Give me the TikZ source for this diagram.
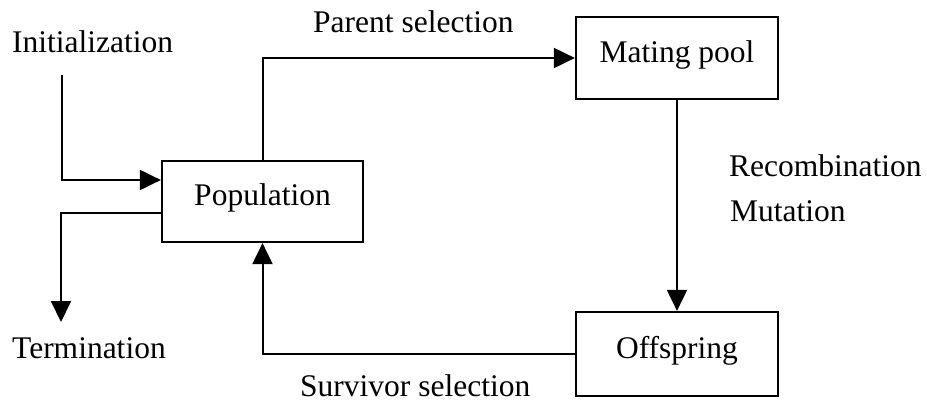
\documentclass[tikz,border=0pt]{standalone}
\usepackage{fontspec}
\setmainfont{Liberation Serif}
\usetikzlibrary{arrows.meta}
\begin{document}
\begin{tikzpicture}[x=1pt,y=-1pt,
  every node/.style={font=\fontsize{31.5pt}{38pt}\selectfont},
  stage/.style={draw, line width=2.2pt, rectangle, inner sep=0pt,
    text height=21pt, text depth=12pt},
  flow/.style={line width=2pt, -{Triangle[length=21pt,width=20pt]}},
  caption/.style={anchor=base west, inner sep=0pt}]
\useasboundingbox (0,0) rectangle (927,401);

% the three stages of the cycle
\node[stage, minimum width=201pt, minimum height=81pt] (pop) at (262.5,201.5) {Population};
\node[stage, minimum width=202pt, minimum height=82pt] (mate) at (677,58) {Mating pool};
\node[stage, minimum width=202pt, minimum height=84pt] (off) at (677,354) {Offspring};

% free ends of the entry and exit connectors
\coordinate (initTop) at (62,75);
\coordinate (termEnd) at (61,322);

% connectors
\draw[flow] (initTop) |- ([yshift=21.5pt]pop.west);
\draw[flow] ([yshift=-11.5pt]pop.west) -| (termEnd);
\draw[flow] (pop.north) |- (mate.west);
\draw[flow] (mate.south) -- (off.north);
\draw[flow] (off.west) -| (pop.south);

% labels
\node[caption] (initLbl) at (12,53) {Initialization};
\node[caption] (termLbl) at (12,358) {Termination};
\node[caption] (parentLbl) at (313,33) {Parent selection};
\node[caption] (survLbl) at (300,396) {Survivor selection};
\node[caption] (recLbl) at (729,177) {Recombination};
\node[caption] (mutLbl) at (730,222) {Mutation};
\end{tikzpicture}
\end{document}
